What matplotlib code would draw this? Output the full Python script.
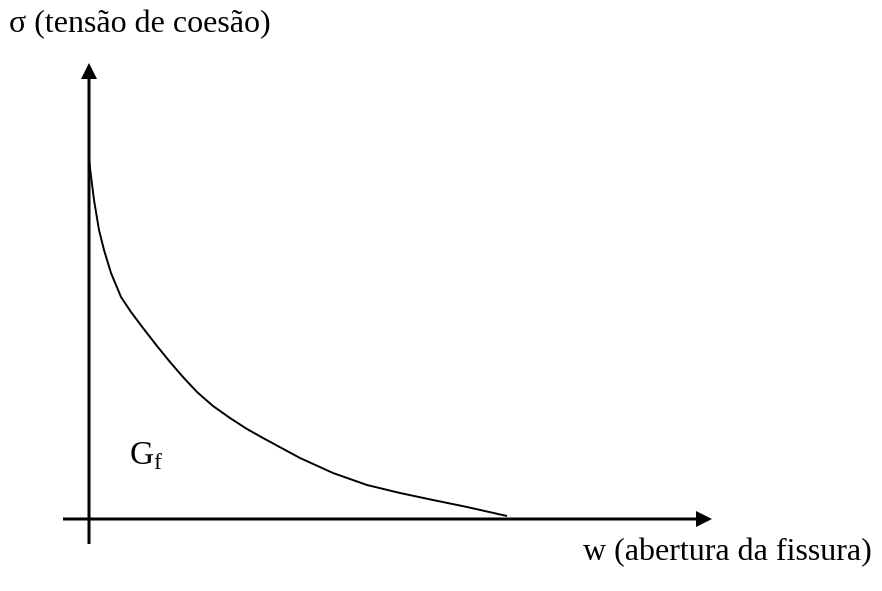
"""Cohesive stress vs crack opening sketch (sigma-w softening curve)."""
import matplotlib
matplotlib.use("Agg")
import matplotlib.pyplot as plt

plt.rcParams["font.family"] = ["Liberation Serif", "DejaVu Serif"]
plt.rcParams["mathtext.fontset"] = "custom"
plt.rcParams["mathtext.rm"] = "Liberation Serif"

# softening curve (arbitrary units, origin at axes cross)
w_open = [0, 5, 10, 15, 22, 32, 42, 54, 68, 81, 94, 108, 124, 141, 158, 174,
          211, 244, 278, 311, 344, 378, 418]
sigma = [359, 319, 289, 269, 246, 222, 207, 191, 173, 157, 142, 127, 113, 101,
         90, 81, 61, 46, 34, 26, 19, 12, 3]

y_label = "σ (tensão de coesão)"
x_label = "w (abertura da fissura)"
area_label = "G$_{\\mathrm{f}}$"

fig = plt.figure(figsize=(8.82, 5.91), dpi=100)
ax = fig.add_axes([0, 0, 1, 1])
ax.set_xlim(-89, 882 - 89)
ax.set_ylim(519 - 591, 519)
ax.axis("off")

# axes with arrow heads
ax.arrow(-26, 0, 649, 0, width=3, head_width=16, head_length=16,
         length_includes_head=True, fc="black", ec="black", lw=0)
ax.arrow(0, -25, 0, 481, width=3, head_width=16, head_length=16,
         length_includes_head=True, fc="black", ec="black", lw=0)

ax.plot(w_open, sigma, color="black", linewidth=1.4, solid_capstyle="butt",
        solid_joinstyle="round")

ax.text(-80, 494, y_label, fontsize=23, ha="left", va="center")
ax.text(494, -34, x_label, fontsize=23, ha="left", va="center")
ax.text(40, 63, area_label, fontsize=24, ha="left", va="center")

fig.savefig("out.png", dpi=100)
